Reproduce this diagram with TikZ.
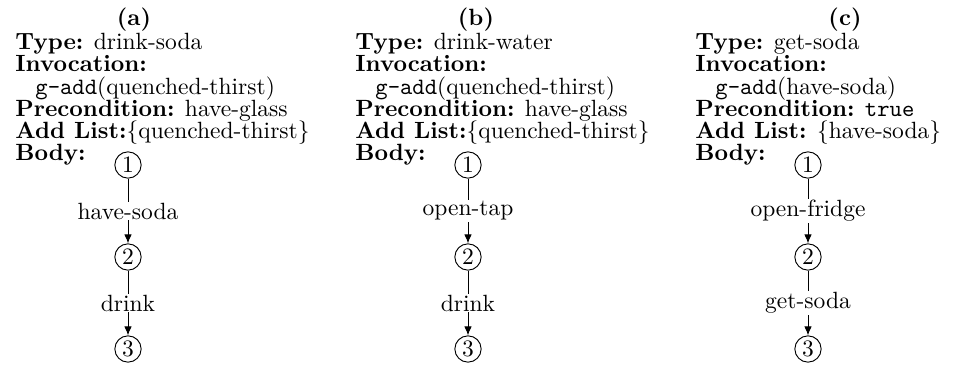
\documentclass[tikz,border=0pt]{standalone}
\usetikzlibrary{arrows.meta}
\begin{document}
\begin{tikzpicture}[x=0.4255pt,y=-0.4255pt,
  lbl/.style={anchor=base west, inner sep=0pt},
  ttl/.style={anchor=base, inner sep=0pt, font=\bfseries},
  state/.style={circle, draw, line width=0.4pt, inner sep=0pt, minimum size=11.2pt},
  act/.style={fill=white, inner sep=0.5pt},
  edge/.style={line width=0.4pt, -{Latex[length=3.8pt,width=3.2pt]}},
]
\useasboundingbox (0,0) rectangle (954,366);
% ---------- (a) ----------
\node[ttl] (a-t) at (134,26) {(a)};
\node[lbl] (a-type) at (15,50) {\textbf{Type:} drink-soda};
\node[lbl] (a-inv) at (15,72) {\textbf{Invocation:}};
\node[lbl] (a-goal) at (35,95) {\texttt{g-add}(quenched-thirst)};
\node[lbl] (a-pre) at (15,117) {\textbf{Precondition:} have-glass};
\node[lbl] (a-add) at (15,139) {\textbf{Add List:}\{quenched-thirst\}};
\node[lbl] (a-body) at (15,161) {\textbf{Body:}};
\node[state] (a1) at (128,165) {1};
\node[state] (a2) at (128,257) {2};
\node[state] (a3) at (128,349) {3};
\draw[edge] (a1) -- node[act] (a-l1) {have-soda} (a2);
\draw[edge] (a2) -- node[act] (a-l2) {drink} (a3);
% ---------- (b) ----------
\node[ttl] (b-t) at (476,26) {(b)};
\node[lbl] (b-type) at (355,50) {\textbf{Type:} drink-water};
\node[lbl] (b-inv) at (355,72) {\textbf{Invocation:}};
\node[lbl] (b-goal) at (375,95) {\texttt{g-add}(quenched-thirst)};
\node[lbl] (b-pre) at (355,117) {\textbf{Precondition:} have-glass};
\node[lbl] (b-add) at (355,139) {\textbf{Add List:}\{quenched-thirst\}};
\node[lbl] (b-body) at (355,161) {\textbf{Body:}};
\node[state] (b1) at (468,165) {1};
\node[state] (b2) at (468,257) {2};
\node[state] (b3) at (468,349) {3};
\draw[edge] (b1) -- node[act] (b-l1) {open-tap} (b2);
\draw[edge] (b2) -- node[act] (b-l2) {drink} (b3);
% ---------- (c) ----------
\node[ttl] (c-t) at (845,26) {(c)};
\node[lbl] (c-type) at (695,50) {\textbf{Type:} get-soda};
\node[lbl] (c-inv) at (695,72) {\textbf{Invocation:}};
\node[lbl] (c-goal) at (715,95) {\texttt{g-add}(have-soda)};
\node[lbl] (c-pre) at (695,117) {\textbf{Precondition:} \texttt{true}};
\node[lbl] (c-add) at (695,139) {\textbf{Add List:} \{have-soda\}};
\node[lbl] (c-body) at (695,161) {\textbf{Body:}};
\node[state] (c1) at (808,165) {1};
\node[state] (c2) at (808,257) {2};
\node[state] (c3) at (808,349) {3};
\draw[edge] (c1) -- node[act] (c-l1) {open-fridge} (c2);
\draw[edge] (c2) -- node[act] (c-l2) {get-soda} (c3);
\end{tikzpicture}
\end{document}
